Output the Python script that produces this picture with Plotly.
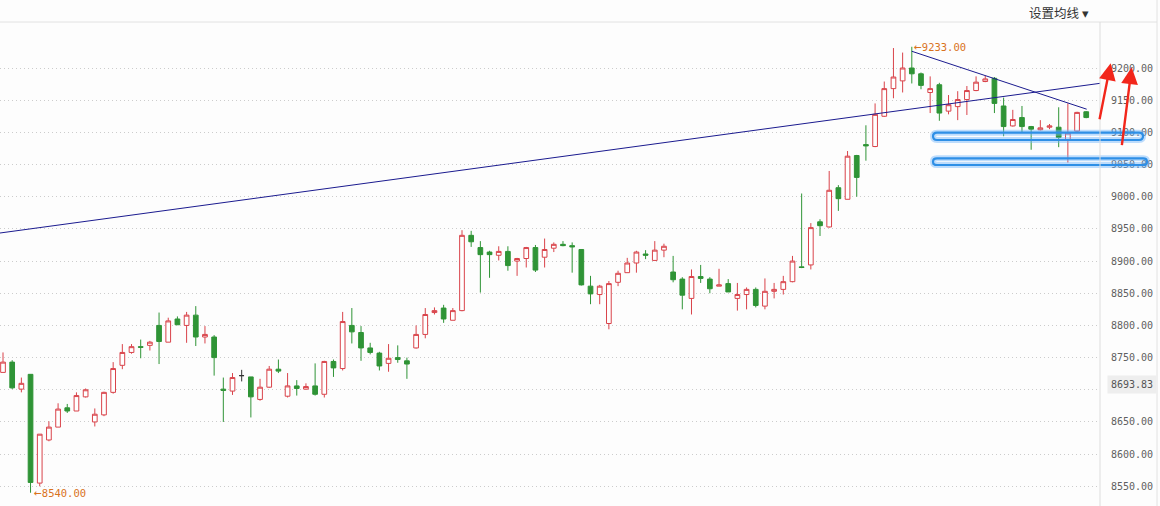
import plotly.graph_objects as go

# ---------------- data ----------------
opens = [8727, 8743, 8701, 8724, 8555, 8622, 8642, 8672, 8667, 8689,
         8650, 8661, 8696, 8738, 8758, 8767, 8769, 8800, 8774, 8810,
         8800, 8816, 8782, 8782, 8701, 8698, 8722, 8720, 8685, 8704,
         8732, 8690, 8706, 8701, 8706, 8693, 8744, 8733, 8800, 8789,
         8765, 8757, 8741, 8750, 8745, 8765, 8786, 8820, 8827, 8808,
         8823, 8940, 8921, 8914, 8909, 8915, 8900, 8904, 8921, 8906,
         8920, 8926, 8924, 8918, 8861, 8848, 8803, 8867, 8882, 8897,
         8911, 8901, 8917, 8883, 8872, 8842, 8876, 8872, 8861, 8865,
         8842, 8848, 8856, 8830, 8853, 8856, 8868, 8891, 8894, 8961,
         8953, 9014, 8996, 9064, 9081, 9078, 9125, 9168, 9180, 9200,
         9191, 9162, 9174, 9133, 9140, 9151, 9165, 9179, 9184, 9141,
         9110, 9123, 9109, 9104, 9108, 9108, 9089, 9102, 9132]
highs = [8758, 8746, 8719, 8724, 8631, 8651, 8679, 8678, 8696, 8702,
         8671, 8697, 8743, 8771, 8771, 8778, 8776, 8820, 8812, 8814,
         8821, 8830, 8799, 8785, 8719, 8726, 8731, 8720, 8717, 8737,
         8747, 8726, 8715, 8710, 8741, 8745, 8747, 8821, 8827, 8799,
         8773, 8759, 8771, 8769, 8750, 8800, 8827, 8828, 8832, 8827,
         8948, 8947, 8931, 8916, 8923, 8923, 8905, 8922, 8925, 8935,
         8929, 8931, 8929, 8918, 8877, 8863, 8869, 8885, 8905, 8916,
         8917, 8931, 8927, 8908, 8875, 8887, 8894, 8875, 8888, 8872,
         8866, 8859, 8859, 8873, 8866, 8877, 8908, 9005, 8959, 8965,
         9040, 9018, 9071, 9065, 9111, 9145, 9179, 9231, 9224, 9233,
         9193, 9187, 9177, 9158, 9164, 9172, 9187, 9188, 9186, 9154,
         9135, 9141, 9110, 9119, 9113, 9139, 9145, 9132, 9133]
lows = [8727, 8701, 8696, 8540, 8550, 8620, 8642, 8664, 8667, 8688,
        8643, 8659, 8694, 8732, 8756, 8749, 8761, 8740, 8774, 8801,
        8773, 8768, 8772, 8722, 8650, 8692, 8713, 8657, 8683, 8703,
        8726, 8688, 8691, 8700, 8691, 8688, 8720, 8730, 8772, 8745,
        8755, 8730, 8728, 8742, 8717, 8764, 8780, 8817, 8804, 8808,
        8822, 8922, 8851, 8874, 8901, 8885, 8877, 8890, 8883, 8890,
        8914, 8923, 8882, 8862, 8833, 8833, 8794, 8861, 8882, 8882,
        8903, 8901, 8906, 8867, 8825, 8817, 8866, 8850, 8861, 8852,
        8823, 8825, 8828, 8825, 8842, 8848, 8867, 8889, 8887, 8939,
        8952, 8978, 8996, 9000, 9056, 9077, 9124, 9153, 9162, 9176,
        9167, 9130, 9118, 9128, 9119, 9127, 9164, 9178, 9130, 9094,
        9109, 9100, 9073, 9103, 9105, 9077, 9053, 9101, 9122]
closes = [8743, 8703, 8710, 8556, 8631, 8642, 8670, 8667, 8691, 8700,
          8662, 8696, 8733, 8758, 8767, 8766, 8774, 8775, 8807, 8801,
          8816, 8782, 8786, 8750, 8699, 8719, 8722, 8689, 8704, 8732,
          8729, 8706, 8702, 8705, 8693, 8744, 8734, 8806, 8790, 8765,
          8758, 8737, 8749, 8747, 8740, 8786, 8817, 8823, 8810, 8823,
          8940, 8930, 8910, 8910, 8915, 8893, 8904, 8921, 8886, 8918,
          8926, 8924, 8922, 8863, 8849, 8861, 8865, 8881, 8897, 8914,
          8909, 8917, 8923, 8871, 8847, 8876, 8873, 8857, 8863, 8852,
          8848, 8856, 8831, 8853, 8856, 8868, 8900, 8890, 8952, 8955,
          9010, 8997, 9063, 9030, 9079, 9128, 9168, 9186, 9200, 9191,
          9173, 9168, 9130, 9143, 9151, 9165, 9178, 9183, 9145, 9109,
          9120, 9109, 9105, 9107, 9110, 9092, 9099, 9131, 9123]
flat_candles = [26]          # unchanged (black cross) candle

y_ticks = [8550, 8600, 8650, 8700, 8750, 8800, 8850, 8900, 8950,
           9000, 9050, 9100, 9150, 9200]
y_tick_labels = ["%.2f" % v for v in y_ticks]

high_mark = (99, 9233.00)     # (candle index, price)
low_mark = (3, 8540.00)
last_price = 8693.83
# drawn trend lines: (index0, price0, index1, price1)
trend_lines = [(-0.33, 8943.6, 119.5, 9176.2),
               (99, 9226, 118.05, 9136)]
# highlighted support levels: (x0 paper, x1 paper, price low, price high)
support_boxes = [(0.8482, 1.0391, 9088.1, 9099.5),
                 (0.8482, 1.0427, 9049.3, 9059.7)]
# red arrows: (tip x paper, tip price, tail dx px, tail dy px)
up_arrows = [(1.0097, 9207.3, -11.4, 57.4),
             (1.0288, 9201.1, -10.0, 79.4)]

RED = "#d9434a"
GREEN = "#2f9436"
NAVY = "#1b1b8f"

idx = list(range(len(opens)))
main_idx = [i for i in idx if i not in flat_candles]

fig = go.Figure()
fig.add_trace(go.Candlestick(
    x=main_idx,
    open=[opens[i] for i in main_idx], high=[highs[i] for i in main_idx],
    low=[lows[i] for i in main_idx], close=[closes[i] for i in main_idx],
    increasing=dict(line=dict(color=RED, width=1), fillcolor="#ffffff"),
    decreasing=dict(line=dict(color=GREEN, width=1), fillcolor=GREEN),
    whiskerwidth=0, showlegend=False, hoverinfo="skip"))
fig.add_trace(go.Candlestick(
    x=flat_candles,
    open=[opens[i] for i in flat_candles], high=[highs[i] for i in flat_candles],
    low=[lows[i] for i in flat_candles], close=[closes[i] for i in flat_candles],
    increasing=dict(line=dict(color="#333333", width=1), fillcolor="#333333"),
    decreasing=dict(line=dict(color="#333333", width=1), fillcolor="#333333"),
    whiskerwidth=0, showlegend=False, hoverinfo="skip"))

shapes = []
for (a0, p0, a1, p1) in trend_lines:
    shapes.append(dict(type="line", xref="x", yref="y", x0=a0, y0=p0, x1=a1, y1=p1,
                       line=dict(color=NAVY, width=1)))

rx = 4.0 / 1100
for (x0, x1, lo, hi) in support_boxes:
    mid = (lo + hi) / 2
    path = (f"M{x0+rx},{hi} L{x1-rx},{hi} Q{x1},{hi} {x1},{mid} Q{x1},{lo} {x1-rx},{lo} "
            f"L{x0+rx},{lo} Q{x0},{lo} {x0},{mid} Q{x0},{hi} {x0+rx},{hi} Z")
    shapes.append(dict(type="path", xref="paper", yref="y", path=path,
                       line=dict(color="rgba(110,180,250,0.45)", width=6)))
    shapes.append(dict(type="path", xref="paper", yref="y", path=path,
                       line=dict(color="#2e8fe6", width=2.2)))

# frame lines
shapes.append(dict(type="line", xref="paper", yref="paper", x0=0, x1=1157/1100, y0=1, y1=1,
                   line=dict(color="#e2e2e2", width=1)))
shapes.append(dict(type="line", xref="paper", yref="paper", x0=1157/1100, x1=1157/1100,
                   y0=0, y1=1 + 22/484, line=dict(color="#e2e2e2", width=1)))
shapes.append(dict(type="line", xref="paper", yref="paper", x0=1, x1=1, y0=0, y1=1,
                   line=dict(color="#dddddd", width=1)))

annotations = []
annotations.append(dict(x=high_mark[0], y=high_mark[1], xref="x", yref="y",
                        text="<span style='font-size:13px'>←</span>%.2f" % high_mark[1],
                        showarrow=False, xanchor="left", yanchor="middle",
                        font=dict(family="DejaVu Sans Mono", size=10.5, color="#d9731e")))
annotations.append(dict(x=low_mark[0] + 0.2, y=low_mark[1], xref="x", yref="y",
                        text="<span style='font-size:13px'>←</span>%.2f" % low_mark[1],
                        showarrow=False, xanchor="left", yanchor="middle",
                        font=dict(family="DejaVu Sans Mono", size=10.5, color="#d9731e")))
annotations.append(dict(x=1106.5/1100, y=last_price, xref="paper", yref="y",
                        text="%.2f" % last_price, showarrow=False,
                        xanchor="left", yanchor="bottom", bgcolor="#eeeeee", borderpad=3,
                        font=dict(family="DejaVu Sans Mono", size=10, color="#555555")))
for (tx, ty, dx, dy) in up_arrows:
    annotations.append(dict(x=tx, y=ty, xref="paper", yref="y", text="",
                            showarrow=True, ax=dx, ay=dy, axref="pixel", ayref="pixel",
                            arrowhead=2, arrowsize=1.4, arrowwidth=2.4,
                            arrowcolor="#f2261b"))
annotations.append(dict(x=1091/1100, y=1 + 9/484, xref="paper", yref="paper",
                        text="设置均线 ▾", showarrow=False, xanchor="right", yanchor="middle",
                        font=dict(family="Noto Sans CJK SC", size=12.5, color="#333333")))

fig.update_layout(
    width=1160, height=506,
    margin=dict(l=0, r=60, t=22, b=0),
    paper_bgcolor="#fdfdfd", plot_bgcolor="#fdfdfd",
    boxgap=0.27,
    shapes=shapes, annotations=annotations,
    xaxis=dict(range=[-0.327, 119.5], showgrid=False, zeroline=False,
               showticklabels=False, ticks="", rangeslider=dict(visible=False),
               fixedrange=True),
    yaxis=dict(side="right", range=[8519.4, 9271.5], tickvals=y_ticks,
               ticktext=y_tick_labels, showgrid=True, gridcolor="#cccccc",
               griddash="1px,3px", gridwidth=1, zeroline=False, ticks="",
               ticklabelstandoff=10, showline=False,
               tickfont=dict(family="DejaVu Sans Mono", size=10, color="#606060")),
)

fig.write_html("out.html", config={"displayModeBar": False},
               post_script="document.body.style.margin='0';document.body.style.overflow='hidden';")
